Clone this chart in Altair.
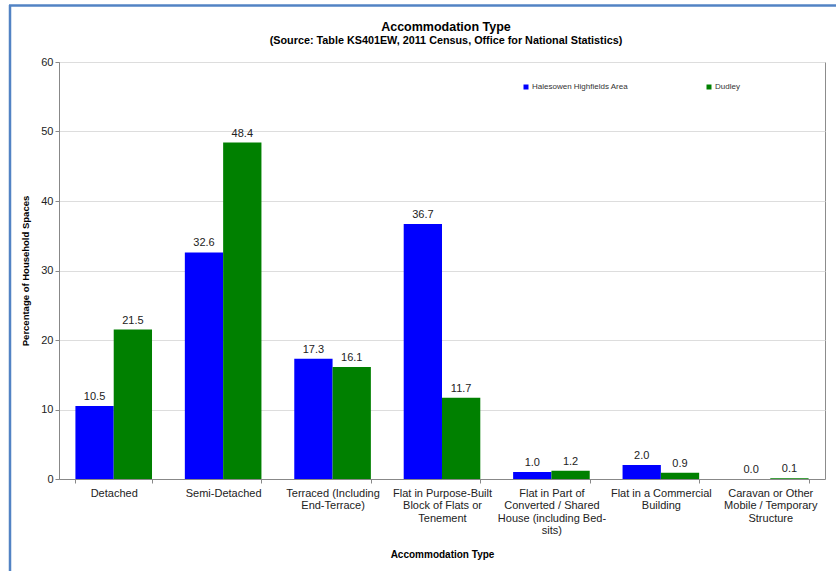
import altair as alt
import pandas as pd

# Accommodation type shares (% of household spaces), 2011 Census KS401EW
categories = [
    "Detached",
    "Semi-Detached",
    "Terraced (Including End-Terrace)",
    "Flat in Purpose-Built Block of Flats or Tenement",
    "Flat in Part of Converted / Shared House (including Bed-sits)",
    "Flat in a Commercial Building",
    "Caravan or Other Mobile / Temporary Structure",
]
label_lines = [
    ["Detached"],
    ["Semi-Detached"],
    ["Terraced (Including", "End-Terrace)"],
    ["Flat in Purpose-Built", "Block of Flats or", "Tenement"],
    ["Flat in Part of", "Converted / Shared", "House (including Bed-", "sits)"],
    ["Flat in a Commercial", "Building"],
    ["Caravan or Other", "Mobile / Temporary", "Structure"],
]
series = ["Halesowen Highfields Area", "Dudley"]
halesowen = [10.5, 32.6, 17.3, 36.7, 1.0, 2.0, 0.0]
dudley = [21.5, 48.4, 16.1, 11.7, 1.2, 0.9, 0.1]
colors = ["#0000ff", "#008000"]

title_text = "Accommodation  Type"
subtitle_text = "(Source: Table KS401EW, 2011 Census, Office for National Statistics)"

rows = []
for cat, h, d in zip(categories, halesowen, dudley):
    rows.append({"category": cat, "series": series[0], "value": h})
    rows.append({"category": cat, "series": series[1], "value": d})
df = pd.DataFrame(rows)

# multi-line axis labels via a ternary chain
expr = "datum.label"
for cat, lines in reversed(list(zip(categories, label_lines))):
    arr = "[" + ",".join("'" + l + "'" for l in lines) + "]"
    expr = f"datum.label == '{cat}' ? {arr} : ({expr})"

FONT = "Liberation Sans"

x_enc = alt.X(
    "category:N",
    sort=categories,
    scale=alt.Scale(paddingInner=0.3, paddingOuter=0.15),
    axis=alt.Axis(
        title="Accommodation Type",
        titleFontWeight="bold",
        titleFontSize=10,
        titleColor="#000000",
        titlePadding=14,
        labelAngle=0,
        labelExpr=expr,
        labelFontSize=11,
        labelColor="#222222",
        labelLineHeight=12.5,
        labelPadding=4,
        labelLimit=200,
        tickBand="extent",
        tickSize=4,
        tickColor="#888888",
        domainColor="#888888",
        grid=False,
    ),
)
xoff = alt.XOffset("series:N", sort=series)
y_enc = alt.Y(
    "value:Q",
    scale=alt.Scale(domain=[0, 60], nice=False),
    axis=alt.Axis(
        title="Percentage of Household Spaces",
        titleFontWeight="bold",
        titleFontSize=9.5,
        titleColor="#000000",
        titlePadding=10,
        values=[0, 10, 20, 30, 40, 50, 60],
        labelFontSize=11,
        labelColor="#222222",
        tickSize=4,
        tickColor="#888888",
        domainColor="#888888",
        gridColor="#dddddd",
    ),
)

bars = alt.Chart(df).mark_bar().encode(
    x=x_enc,
    xOffset=xoff,
    y=y_enc,
    color=alt.Color(
        "series:N",
        sort=series,
        scale=alt.Scale(domain=series, range=colors),
        legend=alt.Legend(
            title=None,
            orient="none",
            legendX=463,
            legendY=21,
            direction="horizontal",
            symbolType="square",
            symbolSize=25,
            symbolStrokeWidth=0,
            labelFontSize=8,
            labelColor="#333333",
            labelOffset=2,
            columnPadding=76,
        ),
    ),
)

labels = alt.Chart(df).mark_text(
    baseline="bottom", dy=-4, fontSize=11, color="#222222", font=FONT
).encode(
    x=alt.X("category:N", sort=categories),
    xOffset=xoff,
    y="value:Q",
    text=alt.Text("value:Q", format=".1f"),
)

one = alt.Chart(pd.DataFrame({"k": [0]}))

# chart heading drawn as text above the plot area
heading = one.mark_text(
    fontSize=12.5, fontWeight="bold", color="#000000", baseline="middle",
    align="center", font=FONT,
).encode(x=alt.value(387), y=alt.value(-35), text=alt.value(title_text))
subheading = one.mark_text(
    fontSize=10.8, fontWeight="bold", color="#000000", baseline="middle",
    align="center", font=FONT,
).encode(x=alt.value(387), y=alt.value(-21), text=alt.value(subtitle_text))

frame_left = one.mark_rule(color="#5283c4", strokeWidth=2.5).encode(
    x=alt.value(-49), y=alt.value(-57), y2=alt.value(520)
)
frame_top = one.mark_rule(color="#5283c4", strokeWidth=2.5).encode(
    x=alt.value(-50), x2=alt.value(777), y=alt.value(-56.5)
)

chart = (
    alt.layer(bars, labels, heading, subheading, frame_left, frame_top)
    .properties(
        width=766,
        height=417,
        autosize=alt.AutoSizeParams(type="none"),
        padding={"left": 59, "top": 62, "right": 11, "bottom": 92},
    )
    .configure(font=FONT, background="white")
    .configure_view(stroke="#8c8c8c", strokeWidth=1)
)

chart.save("out.html", embed_options={"renderer": "svg", "actions": False})
